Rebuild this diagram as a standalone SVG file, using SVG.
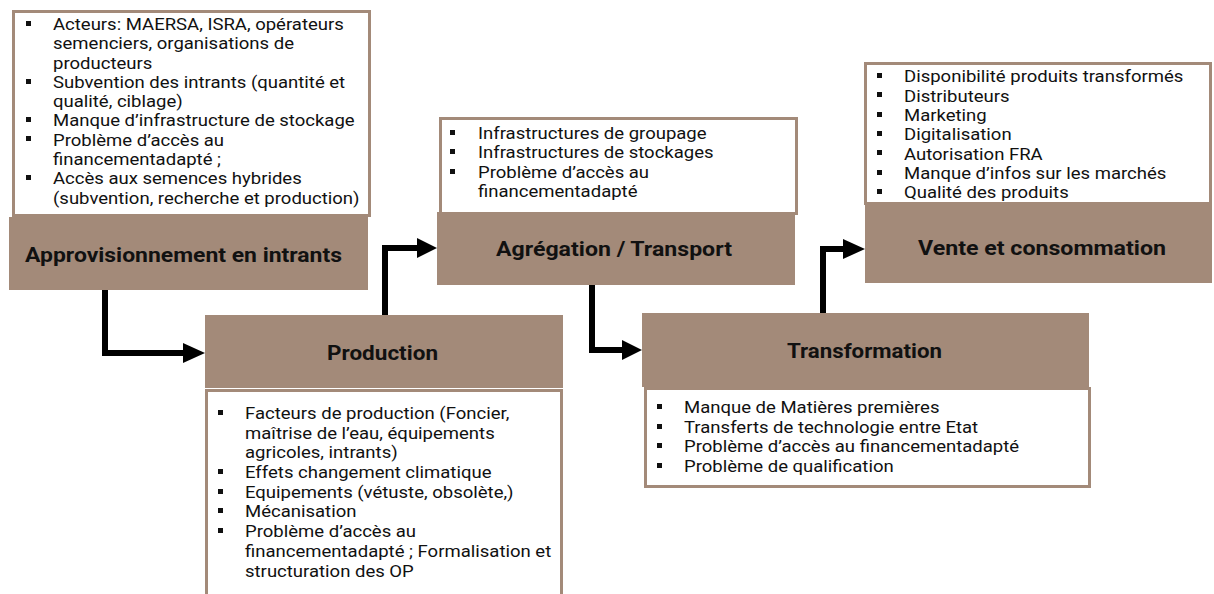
<svg xmlns="http://www.w3.org/2000/svg" width="1214" height="594" viewBox="0 0 1214 594">
<defs>
<style>
.stage{fill:#a38a79;}
.box{fill:#ffffff;stroke:#a38a79;stroke-width:3;}
.title{font-family:Roboto,"Liberation Sans",sans-serif;font-weight:bold;font-size:21px;fill:#111;text-anchor:middle;}
.body{font-family:Roboto,"Liberation Sans",sans-serif;font-size:17px;fill:#111;}
.bul{fill:#111;}
.conn{fill:none;stroke:#000;stroke-width:6;stroke-linejoin:miter;}
.head{fill:#000;}
</style>
</defs>
<rect width="1214" height="594" fill="#ffffff"/>

<g id="node-approvisionnement">
<rect class="box" x="13.5" y="11.5" width="356" height="204"/>
<g class="bul">
<rect x="26" y="21" width="5" height="5"/>
<rect x="26" y="79" width="5" height="5"/>
<rect x="26" y="117" width="5" height="5"/>
<rect x="26" y="136" width="5" height="5"/>
<rect x="26" y="175" width="5" height="5"/>
</g>
<text class="body" transform="translate(53 0) scale(1.09 1)">
<tspan x="0" y="30">Acteurs: MAERSA, ISRA, opérateurs</tspan>
<tspan x="0" y="49.3">semenciers, organisations de</tspan>
<tspan x="0" y="68.6">producteurs</tspan>
<tspan x="0" y="87.9">Subvention des intrants (quantité et</tspan>
<tspan x="0" y="107.2">qualité, ciblage)</tspan>
<tspan x="0" y="126.5">Manque d’infrastructure de stockage</tspan>
<tspan x="0" y="145.8">Problème d’accès au</tspan>
<tspan x="0" y="165.1">financementadapté ;</tspan>
<tspan x="0" y="184.4">Accès aux semences hybrides</tspan>
<tspan x="0" y="203.7">(subvention, recherche et production)</tspan>
</text>
<rect class="stage" x="9" y="217" width="359" height="73"/>
<text class="title" x="183.5" y="261.5" textLength="317" lengthAdjust="spacingAndGlyphs">Approvisionnement en intrants</text>
</g>

<g id="node-production">
<rect class="stage" x="205" y="315" width="358" height="73"/>
<text class="title" x="382.5" y="359.5" textLength="111" lengthAdjust="spacingAndGlyphs">Production</text>
<rect class="box" x="206.5" y="390.5" width="355" height="215"/>
<g class="bul">
<rect x="218" y="410" width="5" height="5"/>
<rect x="218" y="469" width="5" height="5"/>
<rect x="218" y="489" width="5" height="5"/>
<rect x="218" y="508" width="5" height="5"/>
<rect x="218" y="528" width="5" height="5"/>
</g>
<text class="body" transform="translate(245 0) scale(1.09 1)">
<tspan x="0" y="419">Facteurs de production (Foncier,</tspan>
<tspan x="0" y="438.7">maîtrise de l’eau, équipements</tspan>
<tspan x="0" y="458.4">agricoles, intrants)</tspan>
<tspan x="0" y="478.1">Effets changement climatique</tspan>
<tspan x="0" y="497.8">Equipements (vétuste, obsolète,)</tspan>
<tspan x="0" y="517.5">Mécanisation</tspan>
<tspan x="0" y="537.2">Problème d’accès au</tspan>
<tspan x="0" y="556.9">financementadapté ; Formalisation et</tspan>
<tspan x="0" y="576.6">structuration des OP</tspan>
</text>
</g>

<g id="node-agregation">
<rect class="box" x="440.5" y="118.5" width="356" height="95"/>
<g class="bul">
<rect x="450" y="130" width="5" height="5"/>
<rect x="450" y="149" width="5" height="5"/>
<rect x="450" y="169" width="5" height="5"/>
</g>
<text class="body" transform="translate(478 0) scale(1.09 1)">
<tspan x="0" y="139">Infrastructures de groupage</tspan>
<tspan x="0" y="158.5">Infrastructures de stockages</tspan>
<tspan x="0" y="178">Problème d’accès au</tspan>
<tspan x="0" y="197.5">financementadapté</tspan>
</text>
<rect class="stage" x="437" y="212" width="358" height="73"/>
<text class="title" x="614" y="255.5" textLength="236" lengthAdjust="spacingAndGlyphs">Agrégation / Transport</text>
</g>

<g id="node-transformation">
<rect class="stage" x="642" y="313" width="447" height="74"/>
<text class="title" x="864.5" y="357.5" textLength="155" lengthAdjust="spacingAndGlyphs">Transformation</text>
<rect class="box" x="645.5" y="388.5" width="444" height="98"/>
<g class="bul">
<rect x="657" y="404" width="5" height="5"/>
<rect x="657" y="424" width="5" height="5"/>
<rect x="657" y="443" width="5" height="5"/>
<rect x="657" y="463" width="5" height="5"/>
</g>
<text class="body" transform="translate(684 0) scale(1.09 1)">
<tspan x="0" y="413">Manque de Matières premières</tspan>
<tspan x="0" y="432.7">Transferts de technologie entre Etat</tspan>
<tspan x="0" y="452.4">Problème d’accès au financementadapté</tspan>
<tspan x="0" y="472">Problème de qualification</tspan>
</text>
</g>

<g id="node-vente">
<rect class="box" x="865.5" y="63.5" width="345" height="140"/>
<g class="bul">
<rect x="877" y="73" width="5" height="5"/>
<rect x="877" y="92" width="5" height="5"/>
<rect x="877" y="112" width="5" height="5"/>
<rect x="877" y="131" width="5" height="5"/>
<rect x="877" y="150" width="5" height="5"/>
<rect x="877" y="170" width="5" height="5"/>
<rect x="877" y="189" width="5" height="5"/>
</g>
<text class="body" transform="translate(904 0) scale(1.09 1)">
<tspan x="0" y="82.5">Disponibilité produits transformés</tspan>
<tspan x="0" y="101.8">Distributeurs</tspan>
<tspan x="0" y="121.1">Marketing</tspan>
<tspan x="0" y="140.4">Digitalisation</tspan>
<tspan x="0" y="159.7">Autorisation FRA</tspan>
<tspan x="0" y="179">Manque d’infos sur les marchés</tspan>
<tspan x="0" y="198.3">Qualité des produits</tspan>
</text>
<rect class="stage" x="865" y="202" width="347" height="81"/>
<text class="title" x="1042" y="255" textLength="248" lengthAdjust="spacingAndGlyphs">Vente et consommation</text>
</g>

<g id="connectors">
<polyline class="conn" points="105,290 105,353 184,353"/>
<polygon class="head" points="183,343 205,353 183,363"/>
<polyline class="conn" points="385,315 385,248 418,248"/>
<polygon class="head" points="417,238 437,248 417,258"/>
<polyline class="conn" points="592,285 592,350 623,350"/>
<polygon class="head" points="622,340 642,350 622,360"/>
<polyline class="conn" points="823,313 823,249 844,249"/>
<polygon class="head" points="843,239 865,249 843,259"/>
</g>
</svg>
